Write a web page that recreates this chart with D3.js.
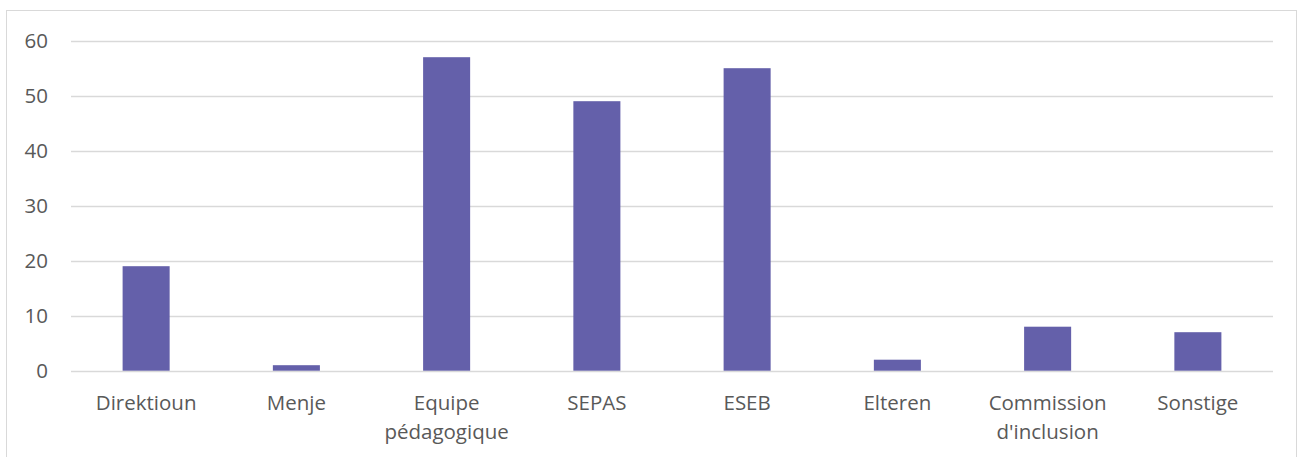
<!DOCTYPE html>
<html><head><meta charset="utf-8">
<script src="https://cdn.jsdelivr.net/npm/d3@7"></script>
<style>
html,body{margin:0;padding:0;background:#fff;}
svg{display:block;}
</style></head>
<body>
<script>
const categories = ["Direktioun", "Menje", "Equipe pédagogique", "SEPAS", "ESEB", "Elteren", "Commission d'inclusion", "Sonstige"];
const categoryLines = [["Direktioun"], ["Menje"], ["Equipe", "pédagogique"], ["SEPAS"], ["ESEB"], ["Elteren"], ["Commission", "d'inclusion"], ["Sonstige"]];
const values = [19, 1, 57, 49, 55, 2, 8, 7];
const yTicks = [0, 10, 20, 30, 40, 50, 60];

const W = 1303, H = 457;
const svg = d3.select("body").append("svg").attr("width", W).attr("height", H);
const font = "'Open Sans', sans-serif";
const textColor = "#595959";

// chart border
svg.append("rect").attr("x", 6.5).attr("y", 10.5).attr("width", 1290).attr("height", 460)
  .attr("fill", "#fff").attr("stroke", "#d9d9d9").attr("stroke-width", 1);

const pLeft = 71, pRight = 1273, pTop = 40.7, pBottom = 370.7;
const x = d3.scaleBand().domain(categories).range([pLeft, pRight]).paddingInner(0.687).paddingOuter(0.3435);
const y = d3.scaleLinear().domain([0, 60]).range([pBottom, pTop]);

// gridlines
svg.append("g").selectAll("line").data(yTicks).join("line")
  .attr("x1", pLeft).attr("x2", pRight)
  .attr("y1", d => Math.round(y(d)) + 0.5).attr("y2", d => Math.round(y(d)) + 0.5)
  .attr("stroke", "#d9d9d9").attr("stroke-width", 1.3);

// y axis labels
const yAxis = d3.axisLeft(y).tickValues(yTicks).tickSize(0).tickPadding(0);
const gy = svg.append("g").attr("transform", `translate(48,0)`).call(yAxis);
gy.select(".domain").remove();
gy.selectAll("text").attr("fill", textColor).attr("font-family", font).attr("font-size", "20.5px");

// bars
svg.append("g").selectAll("rect").data(values).join("rect")
  .attr("x", (d, i) => x(categories[i]))
  .attr("width", x.bandwidth())
  .attr("y", d => y(d))
  .attr("height", d => y(0) - y(d))
  .attr("fill", "#6460AA");

// x labels
const xAxis = d3.axisBottom(x).tickSize(0).tickFormat("");
const gx = svg.append("g").attr("transform", `translate(0,${pBottom})`).call(xAxis);
gx.select(".domain").remove();
const xl = svg.append("g");
categories.forEach((c, i) => {
  const cx = x(c) + x.bandwidth() / 2;
  const t = xl.append("text").attr("x", cx).attr("y", 410)
    .attr("text-anchor", "middle").attr("fill", textColor)
    .attr("font-family", font).attr("font-size", "20.5px");
  categoryLines[i].forEach((ln, j) => {
    t.append("tspan").attr("x", cx).attr("dy", j === 0 ? 0 : 29).text(ln);
  });
});
</script>
</body></html>
